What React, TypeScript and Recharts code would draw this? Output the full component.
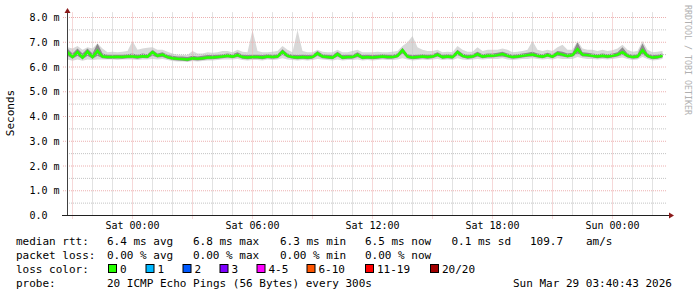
import React from "react";
import { ComposedChart, Area, Line, XAxis, YAxis, ReferenceLine } from "recharts";

const MONO = "'DejaVu Sans Mono', monospace";

// samples every 15 min, hours relative to Sat 00:00
const START_HOUR = -3.25;
const STEP = 0.25;

// median rtt in ms
const median = [
  6.6, 6.4, 6.6, 6.38, 6.62, 6.4, 6.65, 6.42, 6.4, 6.4, 6.41, 6.4, 6.42, 6.42, 6.4, 6.43, 6.42, 6.6, 6.45, 6.5,
  6.4, 6.35, 6.33, 6.32, 6.3, 6.35, 6.33, 6.35, 6.38, 6.38, 6.4, 6.42, 6.45, 6.42, 6.48, 6.4, 6.38, 6.4, 6.4, 6.38,
  6.42, 6.4, 6.42, 6.62, 6.45, 6.4, 6.38, 6.4, 6.38, 6.4, 6.55, 6.42, 6.4, 6.38, 6.52, 6.38, 6.4, 6.4, 6.5, 6.38,
  6.4, 6.38, 6.4, 6.42, 6.4, 6.4, 6.45, 6.68, 6.42, 6.38, 6.4, 6.42, 6.4, 6.42, 6.5, 6.4, 6.42, 6.4, 6.6, 6.45,
  6.4, 6.42, 6.52, 6.42, 6.45, 6.45, 6.48, 6.52, 6.45, 6.4, 6.42, 6.45, 6.48, 6.5, 6.45, 6.42, 6.48, 6.42, 6.55, 6.5,
  6.45, 6.48, 6.72, 6.5, 6.48, 6.45, 6.42, 6.45, 6.42, 6.45, 6.5, 6.6, 6.45, 6.4, 6.42, 6.68, 6.45, 6.38, 6.4, 6.45,
];

// outer smoke (min / max of the pings)
const smokeLow = [
  6.3, 6.25, 6.3, 6.25, 6.3, 6.28, 6.3, 6.3, 6.3, 6.3, 6.28, 6.3, 6.3, 6.3, 6.28, 6.3, 6.3, 6.32, 6.3, 6.32,
  6.28, 6.24, 6.22, 6.22, 6.2, 6.24, 6.22, 6.24, 6.26, 6.26, 6.28, 6.3, 6.3, 6.3, 6.32, 6.28, 6.26, 6.28, 6.28, 6.26,
  6.3, 6.28, 6.3, 6.35, 6.3, 6.28, 6.26, 6.28, 6.26, 6.28, 6.32, 6.3, 6.28, 6.26, 6.3, 6.26, 6.28, 6.28, 6.3, 6.26,
  6.28, 6.26, 6.28, 6.3, 6.28, 6.28, 6.3, 6.35, 6.3, 6.26, 6.28, 6.3, 6.28, 6.3, 6.32, 6.28, 6.3, 6.28, 6.35, 6.3,
  6.28, 6.3, 6.32, 6.3, 6.32, 6.32, 6.32, 6.35, 6.3, 6.28, 6.3, 6.32, 6.32, 6.35, 6.32, 6.3, 6.32, 6.3, 6.35, 6.32,
  6.32, 6.32, 6.4, 6.35, 6.32, 6.32, 6.3, 6.32, 6.3, 6.32, 6.35, 6.38, 6.32, 6.28, 6.3, 6.4, 6.32, 6.26, 6.28, 6.32,
];
const smokeHigh = [
  6.8, 6.75, 6.85, 6.7, 6.8, 6.75, 6.95, 6.75, 6.6, 6.62, 6.6, 6.62, 6.65, 7.05, 6.7, 6.75, 6.78, 6.8, 6.7, 6.7,
  6.62, 6.55, 6.5, 6.5, 6.48, 6.65, 6.55, 6.55, 6.6, 6.58, 6.6, 6.65, 6.65, 6.6, 6.7, 6.62, 6.6, 7.5, 6.65, 6.6,
  6.6, 6.62, 6.65, 6.85, 6.7, 6.6, 7.5, 6.65, 6.6, 6.6, 6.7, 6.62, 6.6, 6.6, 6.7, 6.6, 6.6, 6.65, 6.7, 6.6,
  6.6, 6.6, 6.62, 6.6, 6.6, 6.62, 6.65, 6.85, 7.0, 7.25, 6.8, 6.7, 6.65, 6.65, 6.7, 6.6, 6.62, 6.6, 6.85, 6.7,
  6.62, 6.62, 6.8, 6.65, 6.7, 6.7, 6.7, 6.75, 6.7, 6.6, 6.62, 6.65, 6.7, 7.05, 6.7, 6.65, 6.7, 6.65, 6.8, 6.9,
  6.7, 6.7, 7.05, 6.75, 6.7, 6.7, 6.65, 6.7, 6.65, 6.68, 6.75, 6.9, 6.7, 6.62, 6.65, 7.05, 6.7, 6.6, 6.62, 6.65,
];

// inner, darker smoke
const coreLow = [
  6.45, 6.33, 6.45, 6.31, 6.45, 6.33, 6.45, 6.35, 6.33, 6.33, 6.34, 6.33, 6.35, 6.35, 6.33, 6.36, 6.35, 6.45, 6.38, 6.4,
  6.33, 6.28, 6.26, 6.25, 6.23, 6.28, 6.26, 6.28, 6.31, 6.31, 6.33, 6.35, 6.38, 6.35, 6.4, 6.33, 6.31, 6.33, 6.33, 6.31,
  6.35, 6.33, 6.35, 6.5, 6.38, 6.33, 6.31, 6.33, 6.31, 6.33, 6.45, 6.35, 6.33, 6.31, 6.42, 6.31, 6.33, 6.33, 6.4, 6.31,
  6.33, 6.31, 6.33, 6.35, 6.33, 6.33, 6.38, 6.55, 6.35, 6.31, 6.33, 6.35, 6.33, 6.35, 6.42, 6.33, 6.35, 6.33, 6.48, 6.38,
  6.33, 6.35, 6.42, 6.35, 6.38, 6.38, 6.41, 6.42, 6.38, 6.33, 6.35, 6.38, 6.41, 6.42, 6.38, 6.35, 6.41, 6.35, 6.45, 6.42,
  6.38, 6.41, 6.55, 6.42, 6.41, 6.38, 6.35, 6.38, 6.35, 6.38, 6.42, 6.5, 6.38, 6.33, 6.35, 6.52, 6.38, 6.31, 6.33, 6.38,
];
const coreHigh = [
  6.75, 6.55, 6.75, 6.55, 6.75, 6.55, 6.95, 6.55, 6.5, 6.5, 6.5, 6.5, 6.52, 6.55, 6.5, 6.55, 6.52, 6.7, 6.55, 6.6,
  6.5, 6.45, 6.42, 6.42, 6.4, 6.45, 6.42, 6.45, 6.48, 6.48, 6.5, 6.52, 6.55, 6.52, 6.6, 6.5, 6.48, 6.5, 6.5, 6.48,
  6.52, 6.5, 6.52, 6.72, 6.55, 6.5, 6.48, 6.5, 6.48, 6.5, 6.65, 6.52, 6.5, 6.48, 6.62, 6.48, 6.5, 6.5, 6.6, 6.48,
  6.5, 6.48, 6.5, 6.52, 6.5, 6.5, 6.55, 6.78, 6.52, 6.48, 6.5, 6.52, 6.5, 6.52, 6.6, 6.5, 6.52, 6.5, 6.7, 6.55,
  6.5, 6.52, 6.62, 6.52, 6.55, 6.55, 6.58, 6.62, 6.55, 6.5, 6.52, 6.55, 6.58, 6.62, 6.55, 6.52, 6.58, 6.52, 6.65, 6.62,
  6.55, 6.58, 7.0, 6.6, 6.58, 6.55, 6.52, 6.55, 6.52, 6.55, 6.6, 6.8, 6.55, 6.5, 6.52, 6.95, 6.55, 6.48, 6.5, 6.55,
];

const yMajor = [0, 1, 2, 3, 4, 5, 6, 7, 8];
const yMinor = [0.5, 1.5, 2.5, 3.5, 4.5, 5.5, 6.5, 7.5];
const xMajor = [-3, 0, 3, 6, 9, 12, 15, 18, 21, 24];
const xMinor = [-2, -1, 1, 2, 4, 5, 7, 8, 10, 11, 13, 14, 16, 17, 19, 20, 22, 23, 25, 26];
const xLabels: Record<number, string> = {
  0: "Sat 00:00",
  6: "Sat 06:00",
  12: "Sat 12:00",
  18: "Sat 18:00",
  24: "Sun 00:00",
};

const lossColors = [
  { label: "0", color: "#26ff00", x: 108 },
  { label: "1", color: "#00b8ff", x: 145.5 },
  { label: "2", color: "#0059ff", x: 182.5 },
  { label: "3", color: "#7e00ff", x: 219.5 },
  { label: "4-5", color: "#ff00ff", x: 256.5 },
  { label: "6-10", color: "#ff5500", x: 306.5 },
  { label: "11-19", color: "#ff0000", x: 365 },
  { label: "20/20", color: "#a10000", x: 430 },
];

const rttRow = [
  { t: "median rtt:", x: 16 },
  { t: "6.4 ms avg", x: 107 },
  { t: "6.8 ms max", x: 193 },
  { t: "6.3 ms min", x: 280 },
  { t: "6.5 ms now", x: 365 },
  { t: "0.1 ms sd", x: 451.5 },
  { t: "109.7", x: 530 },
  { t: "am/s", x: 586 },
];
const lossRow = [
  { t: "packet loss:", x: 16 },
  { t: "0.00 % avg", x: 107 },
  { t: "0.00 % max", x: 193 },
  { t: "0.00 % min", x: 280 },
  { t: "0.00 % now", x: 365 },
];

const rows = median.map((m, i) => ({
  h: START_HOUR + i * STEP,
  med: m,
  smoke: [smokeLow[i], smokeHigh[i]],
  core: [coreLow[i], coreHigh[i]],
}));

const RED_GRID = "#ecb0b0";
const GRAY_GRID = "#c4c4c4";

function XTick(props: any) {
  const { x, y, payload } = props;
  const label = xLabels[payload.value];
  if (!label) return null;
  return (
    <text x={x} y={y + 5} textAnchor="middle" dominantBaseline="central" fontFamily={MONO} fontSize={10} fill="#000">
      {label}
    </text>
  );
}

function YTick(props: any) {
  const { y, payload } = props;
  const v = payload.value as number;
  const label = v === 0 ? "0.0" : `${v.toFixed(1)} m`;
  return (
    <text x={29.5} y={y} textAnchor="start" dominantBaseline="central" fontFamily={MONO} fontSize={10} fill="#000">
      {label}
    </text>
  );
}

export default function App() {
  return (
    <div style={{ position: "absolute", left: 0, top: 0, width: 697, height: 297, background: "#fff" }}>
      <ComposedChart width={697} height={297} data={rows} margin={{ top: 12.55, right: 30, bottom: 51.5, left: 30 }}>
        <XAxis
          dataKey="h"
          type="number"
          domain={[-3.275, 26.725]}
          ticks={xMajor}
          interval={0}
          allowDataOverflow
          height={30}
          axisLine={false}
          tickLine={{ stroke: RED_GRID, strokeDasharray: "1 1" }}
          tickSize={3}
          tick={<XTick />}
        />
        <YAxis
          type="number"
          domain={[0, 8.2]}
          ticks={yMajor}
          interval={0}
          allowDataOverflow
          width={37}
          axisLine={false}
          tickLine={{ stroke: RED_GRID, strokeDasharray: "1 1" }}
          tickSize={4}
          tick={<YTick />}
        />
        {yMinor.map((v) => (
          <ReferenceLine key={`ym${v}`} y={v} stroke={GRAY_GRID} strokeDasharray="1 1" />
        ))}
        {xMinor.map((v) => (
          <ReferenceLine key={`xm${v}`} x={v} stroke={GRAY_GRID} strokeDasharray="1 1" />
        ))}
        {yMajor.map((v) => (
          <ReferenceLine key={`yM${v}`} y={v} stroke={RED_GRID} strokeDasharray="1 1" />
        ))}
        {xMajor.map((v) => (
          <ReferenceLine key={`xM${v}`} x={v} stroke={RED_GRID} strokeDasharray="1 1" />
        ))}
        <Area dataKey="smoke" type="linear" stroke="none" fill="#d8d8d8" fillOpacity={1} isAnimationActive={false} />
        <Area dataKey="core" type="linear" stroke="none" fill="#8c8c8c" fillOpacity={1} isAnimationActive={false} />
        <Line dataKey="med" type="linear" stroke="#26ff00" strokeWidth={2.5} dot={false} isAnimationActive={false} />
      </ComposedChart>

      <svg width={697} height={297} style={{ position: "absolute", left: 0, top: 0, pointerEvents: "none" }}>
        {/* axes with arrows */}
        <line x1={67.5} y1={215} x2={67.5} y2={11} stroke="#404040" strokeWidth={1} />
        <line x1={62} y1={215.5} x2={670} y2={215.5} stroke="#202020" strokeWidth={1} />
        <polygon points="64.5,13 70.5,13 67.5,8" fill="#8b1a1a" />
        <polygon points="669,212.5 669,218.5 674,215.5" fill="#8b1a1a" />

        <text
          x={10}
          y={113}
          transform="rotate(-90 10 113)"
          textAnchor="middle"
          dominantBaseline="central"
          fontFamily={MONO}
          fontSize={11}
          fill="#000"
        >
          Seconds
        </text>
        <text
          x={688}
          y={60}
          transform="rotate(90 688 60)"
          textAnchor="middle"
          dominantBaseline="central"
          fontFamily={MONO}
          fontSize={8.3}
          fill="#b0b0b0"
        >
          RRDTOOL / TOBI OETIKER
        </text>

        <g fontFamily={MONO} fontSize={11} fill="#000" dominantBaseline="central">
          {rttRow.map((s) => (
            <text key={s.t} x={s.x} y={241}>
              {s.t}
            </text>
          ))}
          {lossRow.map((s) => (
            <text key={s.t} x={s.x} y={255}>
              {s.t}
            </text>
          ))}
          <text x={16} y={269}>
            loss color:
          </text>
          {lossColors.map((c) => (
            <g key={c.label}>
              <rect x={c.x + 0.5} y={264.5} width={8} height={8} fill={c.color} stroke="#000" strokeWidth={1} />
              <text x={c.x + 12} y={269}>
                {c.label}
              </text>
            </g>
          ))}
          <text x={16} y={283}>
            probe:
          </text>
          <text x={107} y={283}>
            20 ICMP Echo Pings (56 Bytes) every 300s
          </text>
          <text x={513} y={283}>
            Sun Mar 29 03:40:43 2026
          </text>
        </g>
      </svg>
    </div>
  );
}
